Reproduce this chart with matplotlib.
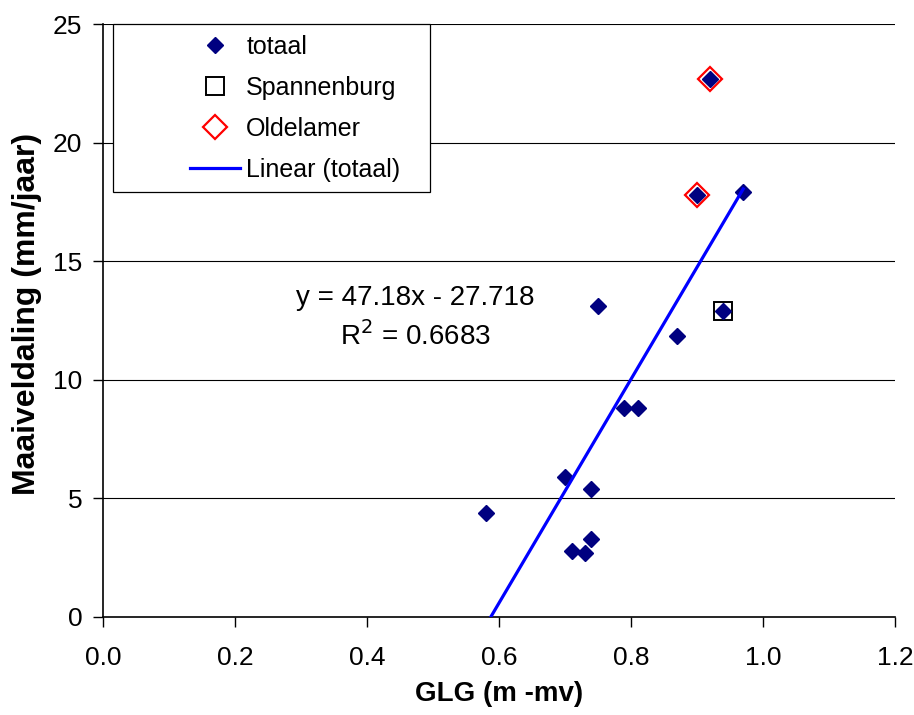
import matplotlib
matplotlib.use("Agg")
import matplotlib.pyplot as plt
from matplotlib.patches import Rectangle
import numpy as np

plt.rcParams['font.family'] = ['Liberation Sans', 'DejaVu Sans']

# data
glg_totaal = [0.58, 0.70, 0.74, 0.71, 0.73, 0.74, 0.79, 0.81, 0.87, 0.94, 0.92, 0.90, 0.97, 0.75]
daling_totaal = [4.4, 5.9, 5.4, 2.8, 2.7, 3.3, 8.8, 8.8, 11.85, 12.9, 22.7, 17.8, 17.9, 13.1]
glg_spannenburg = [0.94]
daling_spannenburg = [12.9]
glg_oldelamer = [0.92, 0.90]
daling_oldelamer = [22.7, 17.8]
slope, intercept = 47.18, -27.718
x_ticks = [0.0, 0.2, 0.4, 0.6, 0.8, 1.0, 1.2]
y_ticks = [0, 5, 10, 15, 20, 25]

W, H = 914, 715
fig = plt.figure(figsize=(W / 100, H / 100), dpi=100)
ax = fig.add_axes([103 / W, 1 - 617 / H, (895 - 103) / W, (617 - 24) / H])

for yv in y_ticks[1:]:
    ax.axhline(yv, color='black', lw=0.8, zorder=0)

xl = np.array([min(glg_totaal), max(glg_totaal)])
ax.plot(glg_oldelamer, daling_oldelamer, linestyle='none', marker='D', ms=12.5,
        mfc='white', mec='red', mew=1.6, label='Oldelamer', zorder=2)
ax.plot(glg_spannenburg, daling_spannenburg, linestyle='none', marker='s', ms=12.5,
        mfc='white', mec='black', mew=1.4, label='Spannenburg', zorder=2)
ax.plot(glg_totaal, daling_totaal, linestyle='none', marker='D', ms=8.5,
        color='#000080', label='totaal', zorder=3)
ax.plot(xl, slope * xl + intercept, color='#0000FF', lw=2.3, label='Linear (totaal)', zorder=4)

ax.set_xlim(0, 1.2)
ax.set_ylim(0, 25)
ax.set_xticks(x_ticks)
ax.set_xticklabels([f"{v:.1f}" for v in x_ticks])
ax.set_yticks(y_ticks)
ax.tick_params(axis='both', direction='out', length=7, width=1, labelsize=19)
ax.tick_params(axis='y', pad=8)
ax.tick_params(axis='x', pad=14)
for s in ['top', 'right']:
    ax.spines[s].set_visible(False)
for s in ['left', 'bottom']:
    ax.spines[s].set_linewidth(1.2)

ax.set_xlabel('GLG (m -mv)', fontsize=20, fontweight='bold', labelpad=8)
ax.set_ylabel('Maaiveldaling (mm/jaar)', fontsize=23, fontweight='bold')
ax.yaxis.set_label_coords(-0.077, 0.511)

ax.text(0.473, 13.45, 'y = 47.18x - 27.718', fontsize=20, ha='center', va='center')
ax.text(0.473, 11.85, 'R$^2$ = 0.6683', fontsize=20, ha='center', va='center')

# legend box (Excel-style, wide left padding)
fig.patches.append(Rectangle((113 / W, 1 - 192 / H), 317 / W, 168 / H,
                             transform=fig.transFigure, facecolor='white',
                             edgecolor='black', lw=0.9, zorder=5))
handles, labels = ax.get_legend_handles_labels()
order = [2, 1, 0, 3]
leg = fig.legend([handles[i] for i in order], [labels[i] for i in order],
                 loc='upper left', bbox_to_anchor=(190 / W, 1 - 35 / H), fontsize=18,
                 frameon=False, labelspacing=0.68, handlelength=2.0,
                 handletextpad=0.25, borderpad=0.0, borderaxespad=0.0)
leg.set_zorder(6)

fig.savefig('out.png', dpi=100)
